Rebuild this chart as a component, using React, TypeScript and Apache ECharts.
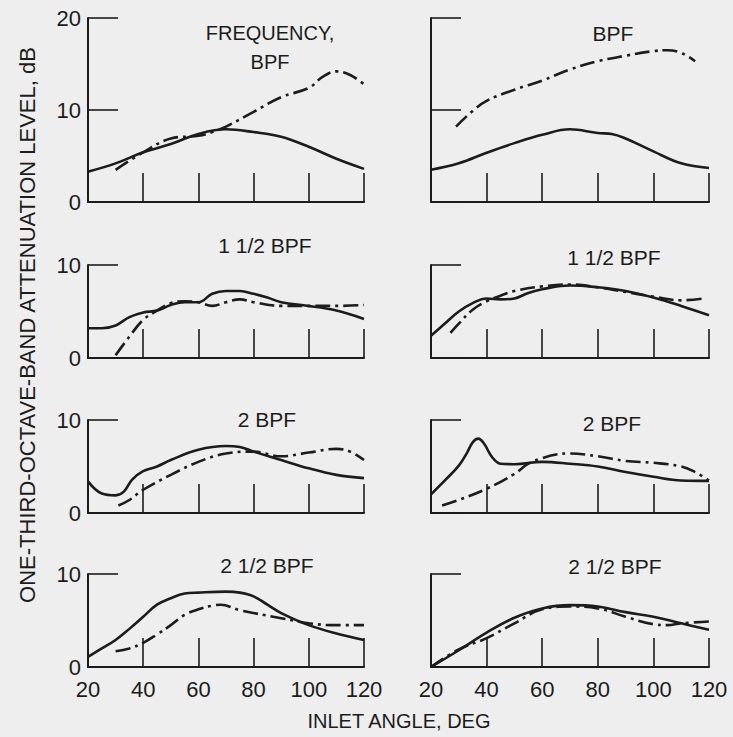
import React, { useEffect, useRef } from "react";
import * as echarts from "echarts";

// Inlet angle axis (deg)
const angleMin = 20;
const angleMax = 120;
const angleStep = 20;

// Panel titles (row-major: left, right)
const panelTitles = [
  ["FREQUENCY,\nBPF", "BPF"],
  ["1 1/2 BPF", "1 1/2 BPF"],
  ["2 BPF", "2 BPF"],
  ["2 1/2 BPF", "2 1/2 BPF"],
];
const yMaxByRow = [20, 10, 10, 10];

// Row 1 (BPF)
const r1LeftSolid = [[20, 3.3], [30, 4.2], [40, 5.4], [50, 6.3], [60, 7.4], [70, 7.9], [80, 7.6], [90, 7.1], [100, 6.0], [110, 4.7], [120, 3.6]];
const r1LeftDash = [[30, 3.5], [40, 5.4], [50, 6.9], [60, 7.2], [65, 7.6], [70, 8.2], [80, 9.8], [90, 11.4], [100, 12.4], [105, 13.6], [110, 14.2], [115, 13.8], [120, 12.8]];
const r1RightSolid = [[20, 3.5], [30, 4.2], [40, 5.35], [50, 6.4], [60, 7.3], [70, 7.9], [80, 7.5], [85, 7.4], [90, 6.9], [100, 5.5], [110, 4.2], [120, 3.7]];
const r1RightDash = [[29, 8.2], [35, 9.9], [40, 11.0], [50, 12.2], [60, 13.2], [70, 14.4], [80, 15.3], [90, 15.9], [100, 16.4], [105, 16.5], [110, 16.2], [115, 15.3]];

// Row 2 (1 1/2 BPF)
const r2LeftSolid = [[20, 3.2], [25, 3.2], [30, 3.5], [35, 4.4], [40, 4.9], [45, 5.1], [50, 5.7], [55, 6.0], [60, 6.0], [65, 6.9], [70, 7.2], [75, 7.2], [80, 6.9], [85, 6.5], [90, 6.0], [100, 5.6], [110, 5.1], [120, 4.2]];
const r2LeftDash = [[30, 0.3], [35, 2.3], [40, 4.1], [45, 5.1], [50, 5.9], [55, 6.1], [60, 6.0], [65, 5.6], [70, 6.0], [75, 6.3], [80, 6.0], [90, 5.6], [100, 5.6], [110, 5.6], [120, 5.7]];
const r2RightSolid = [[20, 2.4], [25, 3.7], [30, 5.0], [35, 5.9], [40, 6.4], [45, 6.3], [50, 6.4], [55, 7.0], [60, 7.4], [70, 7.8], [80, 7.6], [90, 7.2], [100, 6.5], [110, 5.6], [120, 4.6]];
const r2RightDash = [[27, 2.7], [30, 3.7], [35, 5.2], [40, 6.1], [45, 6.7], [50, 7.2], [60, 7.7], [70, 7.9], [80, 7.6], [90, 7.1], [100, 6.6], [110, 6.2], [118, 6.4]];

// Row 3 (2 BPF)
const r3LeftSolid = [[20, 3.4], [25, 2.1], [30, 1.9], [33, 2.3], [36, 3.6], [40, 4.5], [45, 5.0], [50, 5.7], [60, 6.8], [70, 7.2], [75, 7.1], [80, 6.6], [90, 5.7], [100, 4.8], [110, 4.1], [120, 3.75]];
const r3LeftDash = [[31, 0.8], [35, 1.4], [40, 2.5], [50, 4.1], [60, 5.5], [70, 6.4], [80, 6.6], [90, 6.1], [100, 6.5], [110, 6.9], [115, 6.6], [120, 5.7]];
const r3RightSolid = [[20, 2.0], [25, 3.5], [30, 5.1], [33, 6.5], [35, 7.6], [37, 8.0], [39, 7.5], [42, 6.0], [45, 5.3], [50, 5.25], [60, 5.5], [70, 5.3], [80, 5.0], [90, 4.4], [100, 3.9], [110, 3.5], [120, 3.45]];
const r3RightDash = [[24, 0.8], [30, 1.4], [40, 2.6], [50, 4.2], [55, 5.3], [60, 5.9], [65, 6.3], [70, 6.4], [80, 6.1], [90, 5.6], [100, 5.4], [110, 5.0], [115, 4.4], [120, 3.5]];

// Row 4 (2 1/2 BPF)
const r4LeftSolid = [[20, 1.1], [25, 2.0], [30, 2.9], [35, 4.1], [40, 5.4], [45, 6.7], [50, 7.4], [55, 7.9], [60, 8.0], [70, 8.1], [75, 8.0], [80, 7.6], [85, 6.7], [90, 5.8], [100, 4.5], [110, 3.6], [120, 2.9]];
const r4LeftDash = [[30, 1.7], [35, 2.0], [40, 2.6], [45, 3.5], [50, 4.5], [55, 5.6], [60, 6.2], [65, 6.6], [68, 6.7], [75, 6.1], [80, 5.8], [90, 5.25], [100, 4.7], [110, 4.5], [120, 4.5]];
const r4RightSolid = [[20, 0.0], [30, 1.8], [40, 3.7], [50, 5.3], [60, 6.3], [70, 6.65], [80, 6.5], [90, 5.9], [100, 5.4], [110, 4.7], [120, 4.0]];
const r4RightDash = [[20, 0.0], [30, 1.9], [40, 3.1], [50, 4.7], [60, 6.2], [70, 6.5], [80, 6.3], [90, 5.4], [100, 4.6], [105, 4.5], [110, 4.7], [120, 4.9]];

const panelData = [
  [[r1LeftSolid, r1LeftDash], [r1RightSolid, r1RightDash]],
  [[r2LeftSolid, r2LeftDash], [r2RightSolid, r2RightDash]],
  [[r3LeftSolid, r3LeftDash], [r3RightSolid, r3RightDash]],
  [[r4LeftSolid, r4LeftDash], [r4RightSolid, r4RightDash]],
];

const xTitle = "INLET ANGLE, DEG";
const yTitle = "ONE-THIRD-OCTAVE-BAND ATTENUATION LEVEL, dB";

// Layout
const COLS = [
  { left: 88, width: 276 },
  { left: 431, width: 278 },
];
const ROWS = [
  { top: 18, height: 184 },
  { top: 265, height: 93 },
  { top: 420, height: 93 },
  { top: 574, height: 93 },
];
const TITLE_POS = [
  [[270, 47], [613, 33]],
  [[265, 245], [614, 257]],
  [[267, 419], [612, 423]],
  [[267, 565], [615, 566]],
];

const INK = "#1c1c1c";
const FONT = "'Liberation Sans', Arial, sans-serif";

export default function App() {
  const ref = useRef<HTMLDivElement>(null);
  useEffect(() => {
    if (!ref.current) return;
    const chart = echarts.init(ref.current, null, { renderer: "svg" });
    const grid: any[] = [];
    const xAxis: any[] = [];
    const yAxis: any[] = [];
    const series: any[] = [];
    const graphic: any[] = [];
    let idx = 0;
    ROWS.forEach((row, r) => {
      COLS.forEach((col, c) => {
        grid.push({ left: col.left, top: row.top, width: col.width, height: row.height, containLabel: false });
        xAxis.push({
          type: "value",
          gridIndex: idx,
          min: angleMin,
          max: angleMax,
          interval: angleStep,
          axisLine: { show: true, lineStyle: { color: INK, width: 2 } },
          axisTick: { show: true, inside: true, length: 29, lineStyle: { color: INK, width: 1.6 } },
          axisLabel: {
            show: r === ROWS.length - 1,
            margin: 11,
            fontSize: 22,
            color: INK,
            fontFamily: FONT,
          },
          splitLine: { show: false },
        });
        yAxis.push({
          type: "value",
          gridIndex: idx,
          min: 0,
          max: yMaxByRow[r],
          interval: 10,
          axisLine: { show: true, lineStyle: { color: INK, width: 2 } },
          axisTick: { show: true, inside: true, length: 30, lineStyle: { color: INK, width: 1.6 } },
          axisLabel: {
            show: c === 0,
            margin: 7,
            fontSize: 22,
            color: INK,
            fontFamily: FONT,
          },
          splitLine: { show: false },
        });
        const [solid, dash] = panelData[r][c];
        series.push({
          type: "line",
          xAxisIndex: idx,
          yAxisIndex: idx,
          data: solid,
          smooth: 0.4,
          symbol: "none",
          lineStyle: { color: INK, width: 2.6, type: "solid" },
        });
        series.push({
          type: "line",
          xAxisIndex: idx,
          yAxisIndex: idx,
          data: dash,
          smooth: 0.4,
          symbol: "none",
          lineStyle: { color: INK, width: 2.6, type: [15, 5, 3, 5] },
        });
        const [tx, ty] = TITLE_POS[r][c];
        graphic.push({
          type: "text",
          x: tx,
          y: ty,
          style: {
            text: panelTitles[r][c],
            fontSize: r === 0 && c === 0 ? 20 : 21,
            lineHeight: 29,
            fontFamily: FONT,
            fill: INK,
            textAlign: "center",
            textVerticalAlign: "middle",
          },
        });
        idx++;
      });
    });
    graphic.push({
      type: "text",
      x: 399,
      y: 721,
      style: { text: xTitle, fontSize: 20, fontFamily: FONT, fill: INK, textAlign: "center", textVerticalAlign: "middle" },
    });
    graphic.push({
      type: "text",
      x: 27,
      y: 325,
      rotation: Math.PI / 2,
      style: { text: yTitle, fontSize: 22, fontFamily: FONT, fill: INK, textAlign: "center", textVerticalAlign: "middle" },
    });
    chart.setOption({
      animation: false,
      backgroundColor: "#eeeeee",
      grid,
      xAxis,
      yAxis,
      series,
      graphic,
    });
    return () => chart.dispose();
  }, []);
  return <div ref={ref} style={{ position: "fixed", left: 0, top: 0, width: 733, height: 737 }} />;
}
